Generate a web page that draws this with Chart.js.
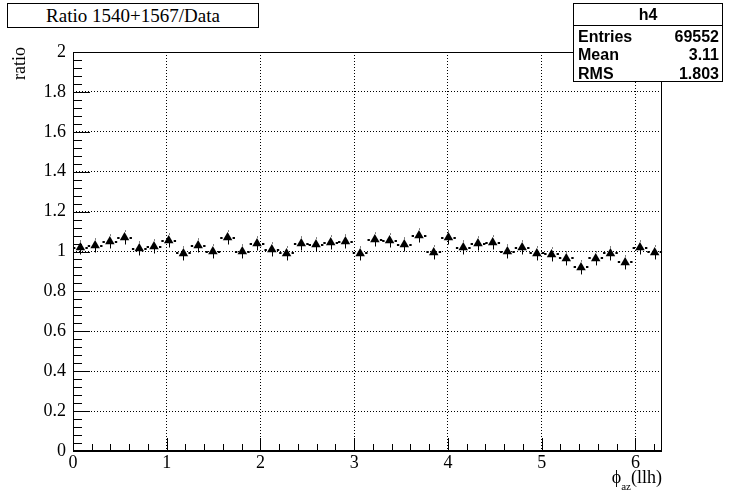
<!DOCTYPE html>
<html><head><meta charset="utf-8">
<script src="https://cdn.jsdelivr.net/npm/chart.js@4.4.0/dist/chart.umd.min.js"></script>
<style>
body{margin:0;background:#fff;}
#wrap{position:relative;width:735px;height:500px;overflow:hidden;background:#fff;}
#c{position:absolute;left:0;top:0;}
.serif{font-family:'Liberation Serif','Times New Roman',serif;color:#000;}
#title{position:absolute;left:7px;top:3px;width:250px;height:23px;border:1px solid #000;background:#fff;font-size:19px;line-height:23px;text-align:center;white-space:nowrap;}
#stats{position:absolute;left:573px;top:3px;width:148px;height:77px;border:1px solid #000;background:#fff;font-family:'Liberation Sans',Arial,sans-serif;font-weight:bold;font-size:16px;color:#000;}
#stats .hd{position:absolute;left:0;top:0;width:148px;height:21px;line-height:21px;text-align:center;border-bottom:1px solid #000;}
#stats .row{position:absolute;left:4px;width:141px;height:19px;line-height:19px;}
#stats .row span.v{position:absolute;right:0;top:0;}
#ytitle{position:absolute;left:9px;top:46px;font-size:18px;line-height:20px;transform-origin:0 0;transform:translate(0,34px) rotate(-90deg);white-space:nowrap;}
#xtitle{position:absolute;right:73px;top:467px;font-size:18px;line-height:20px;white-space:nowrap;}
#xtitle sub{font-size:11px;vertical-align:-7px;}
</style></head>
<body>
<div id="wrap">
<canvas id="c" width="735" height="500"></canvas>
<div id="title" class="serif">Ratio 1540+1567/Data</div>
<div id="stats">
  <div class="hd">h4</div>
  <div class="row" style="top:23px">Entries<span class="v">69552</span></div>
  <div class="row" style="top:41px">Mean<span class="v">3.11</span></div>
  <div class="row" style="top:60px">RMS<span class="v">1.803</span></div>
</div>
<div id="ytitle" class="serif">ratio</div>
<div id="xtitle" class="serif">ϕ<sub>az</sub>(llh)</div>
</div>
<script>
const binCenters = [0.079,0.236,0.393,0.550,0.707,0.864,1.021,1.178,1.335,1.492,
  1.649,1.806,1.963,2.121,2.278,2.435,2.592,2.749,2.906,3.063,
  3.220,3.377,3.534,3.691,3.848,4.005,4.163,4.320,4.477,4.634,
  4.791,4.948,5.105,5.262,5.419,5.576,5.733,5.890,6.048,6.205];
const ratioValues = [1.02,1.03,1.05,1.07,1.015,1.025,1.055,0.99,1.03,1.00,
  1.07,1.00,1.04,1.01,0.99,1.04,1.035,1.045,1.05,0.99,
  1.06,1.055,1.035,1.08,0.995,1.07,1.02,1.04,1.045,1.00,
  1.02,0.99,0.985,0.965,0.92,0.965,0.99,0.945,1.02,0.995];
const ratioErrors = [0.035,0.035,0.035,0.035,0.035,0.035,0.035,0.035,0.035,0.035,
  0.035,0.035,0.035,0.035,0.035,0.035,0.035,0.035,0.035,0.035,
  0.035,0.035,0.035,0.035,0.035,0.035,0.035,0.035,0.035,0.035,
  0.035,0.035,0.035,0.035,0.035,0.035,0.035,0.035,0.035,0.035];
const binWidth = 0.157;
const xMin = 0, xMax = 6.283;
const yMin = 0, yMax = 2;
const xTickValues = [0,1,2,3,4,5,6];
const yTickValues = [0,0.2,0.4,0.6,0.8,1,1.2,1.4,1.6,1.8,2];

const rootPlugin = {
  id: 'rootStyle',
  beforeDatasetsDraw(chart) {
    const ctx = chart.ctx, xs = chart.scales.x, ys = chart.scales.y;
    const {left, right, top, bottom} = chart.chartArea;
    ctx.save();
    ctx.strokeStyle = '#000';
    ctx.lineWidth = 1;
    ctx.setLineDash([]);
    ctx.beginPath();
    for (let k = 0; k <= 50; k++) {
      const y = Math.round(ys.getPixelForValue(k * 0.04)) + 0.5;
      const len = (k % 5 === 0) ? 17 : 9;
      ctx.moveTo(left, y); ctx.lineTo(left + len, y);
    }
    for (let k = 0; k <= 31; k++) {
      const x = Math.round(xs.getPixelForValue(k * 0.2)) + 0.5;
      const len = (k % 5 === 0) ? 13 : 7;
      ctx.moveTo(x, bottom); ctx.lineTo(x, bottom - len);
    }
    ctx.stroke();
    ctx.strokeRect(left + 0.5, top + 0.5, right - left - 1, bottom - top - 1);
    ctx.beginPath();
    ctx.lineWidth = 2;
    ctx.moveTo(left, bottom); ctx.lineTo(right, bottom);
    ctx.stroke();
    const data = chart.data.datasets[0].data;
    ctx.beginPath();
    data.forEach((p, i) => {
      const x = xs.getPixelForValue(p.x), y = Math.round(ys.getPixelForValue(p.y));
      const xl = xs.getPixelForValue(p.x - binWidth / 2), xr = xs.getPixelForValue(p.x + binWidth / 2);
      ctx.moveTo(xl, y); ctx.lineTo(x - 5, y);
      ctx.moveTo(x + 5, y); ctx.lineTo(xr, y);
    });
    ctx.lineWidth = 2;
    ctx.stroke();
    ctx.beginPath();
    data.forEach((p, i) => {
      const x = Math.round(xs.getPixelForValue(p.x)) + 0.5, y = ys.getPixelForValue(p.y);
      const yt = ys.getPixelForValue(p.y + ratioErrors[i]), yb = ys.getPixelForValue(p.y - ratioErrors[i]);
      ctx.moveTo(x, yt); ctx.lineTo(x, y - 6);
      ctx.moveTo(x, y + 2); ctx.lineTo(x, yb);
    });
    ctx.lineWidth = 1;
    ctx.stroke();
    ctx.restore();
  }
};

const tickFont = {family: "'Liberation Serif','Times New Roman',serif", size: 18};

new Chart(document.getElementById('c'), {
  type: 'scatter',
  data: {
    datasets: [{
      label: 'h4',
      data: binCenters.map((x, i) => ({x: x, y: ratioValues[i]})),
      pointStyle: 'triangle',
      pointRadius: 5.5,
      pointHoverRadius: 5.5,
      pointBackgroundColor: '#000',
      pointBorderColor: '#000',
      pointBorderWidth: 0,
      showLine: false
    }]
  },
  options: {
    responsive: false,
    animation: false,
    devicePixelRatio: 1,
    layout: {padding: {left: 0, right: 73, top: 52, bottom: 0}},
    plugins: {legend: {display: false}, tooltip: {enabled: false}, title: {display: false}},
    scales: {
      x: {
        type: 'linear', min: xMin, max: xMax,
        afterBuildTicks(s) { s.ticks = xTickValues.map(v => ({value: v})); },
        afterFit(s) { s.height = 49; },
        grid: {color: '#000', lineWidth: 1, drawTicks: false},
        border: {display: false, dash: [1, 2]},
        ticks: {font: tickFont, color: '#000', padding: 1, maxRotation: 0, autoSkip: false,
          callback: v => String(v)}
      },
      y: {
        type: 'linear', min: yMin, max: yMax,
        afterBuildTicks(s) { s.ticks = yTickValues.map(v => ({value: v})); },
        afterFit(s) { s.width = 73; },
        grid: {color: '#000', lineWidth: 1, drawTicks: false},
        border: {display: false, dash: [1, 2]},
        ticks: {font: tickFont, color: '#000', padding: 7, autoSkip: false,
          callback: v => String(+(+v).toFixed(1))}
      }
    }
  },
  plugins: [rootPlugin]
});
</script>
</body></html>
